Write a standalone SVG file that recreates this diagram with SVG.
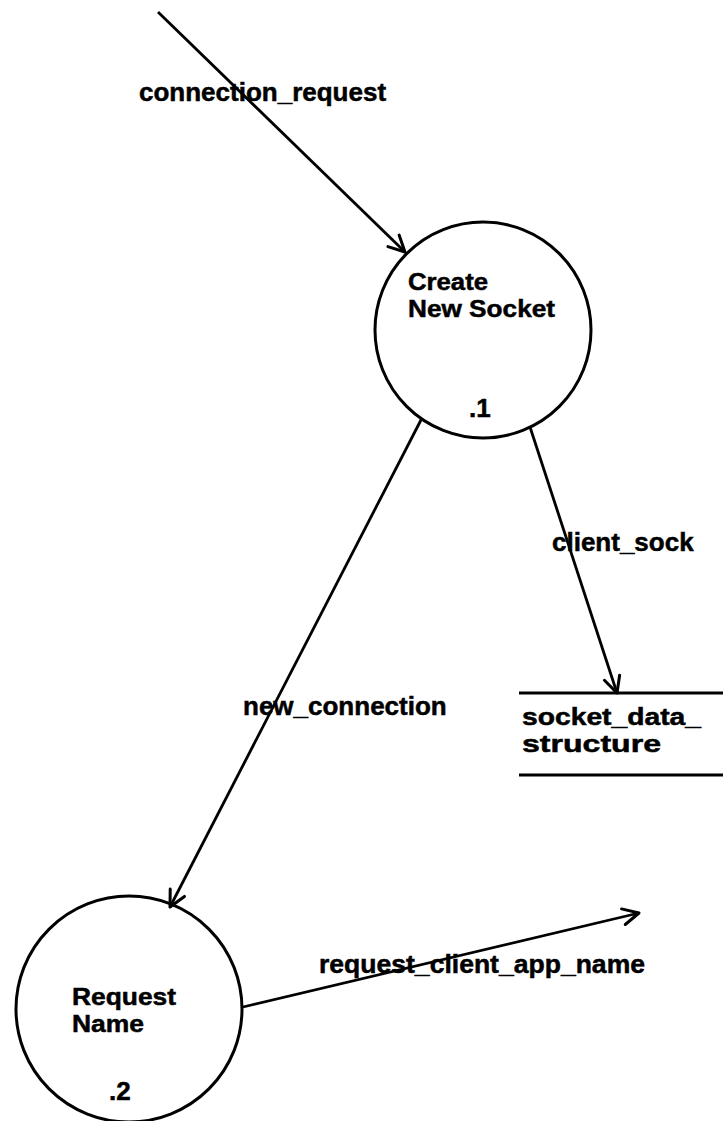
<svg xmlns="http://www.w3.org/2000/svg" width="723" height="1121" viewBox="0 0 723 1121">
<style>
text{font-family:"Liberation Sans",Arial,Helvetica,sans-serif;font-weight:bold;font-size:26px;fill:#000;stroke:#000;stroke-width:0.5}
text.ml{font-size:24px}
.proc{fill:#fff;stroke:#000;stroke-width:3}
.flow{fill:none;stroke:#000;stroke-width:2.8;marker-end:url(#ah)}
.store{stroke:#000;stroke-width:3.2}
</style>
<defs>
<marker id="ah" viewBox="-20 -10 22 20" refX="0" refY="0" markerWidth="22" markerHeight="20" markerUnits="userSpaceOnUse" orient="auto">
<path d="M-16,-8 L0,0 L-16,8" fill="none" stroke="#000" stroke-width="3" stroke-linecap="round" stroke-linejoin="round"/>
</marker>
</defs>
<rect width="723" height="1121" fill="#fff"/>
<g id="p1">
<circle class="proc" cx="483" cy="330" r="108"/>
<text class="ml" x="408" y="290" textLength="80" lengthAdjust="spacingAndGlyphs">Create</text>
<text class="ml" x="408" y="317" textLength="147" lengthAdjust="spacingAndGlyphs">New Socket</text>
<text x="469" y="417">.1</text>
</g>
<g id="p2">
<circle class="proc" cx="129" cy="1009" r="113"/>
<text class="ml" x="72" y="1005" textLength="104" lengthAdjust="spacingAndGlyphs">Request</text>
<text class="ml" x="72" y="1032" textLength="72" lengthAdjust="spacingAndGlyphs">Name</text>
<text x="109" y="1100">.2</text>
</g>
<g id="store">
<line class="store" x1="519" y1="693" x2="723" y2="693"/>
<line class="store" x1="519" y1="775" x2="723" y2="775"/>
<text class="ml" x="522" y="725" textLength="179" lengthAdjust="spacingAndGlyphs">socket_data_</text>
<text class="ml" x="522" y="752" textLength="139" lengthAdjust="spacingAndGlyphs">structure</text>
</g>
<g id="connectors">
<line class="flow" x1="158" y1="12" x2="405" y2="252"/>
<line class="flow" x1="422" y1="418" x2="170" y2="907"/>
<line class="flow" x1="530" y1="427" x2="617" y2="693"/>
<line class="flow" x1="243" y1="1007" x2="639" y2="913"/>
<text x="139" y="101">connection_request</text>
<text x="552" y="551">client_sock</text>
<text x="243" y="715">new_connection</text>
<text x="319" y="973" textLength="326" lengthAdjust="spacingAndGlyphs">request_client_app_name</text>
</g>
</svg>
